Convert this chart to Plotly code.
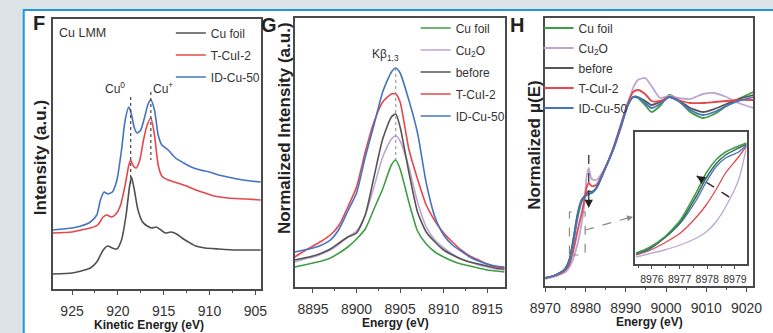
import plotly.graph_objects as go

W, H = 773, 333
SANS = "Liberation Sans, Arial, sans-serif"
AX = "#4a4a4a"
TXT = "#333333"

# colours
C_FOIL_F = "#505050"
C_RED = "#e4474c"
C_BLUE = "#4474c0"
C_GREEN = "#3f9e44"
C_PURPLE = "#bca6d4"
C_BEFORE = "#555555"

# ---------------- Panel F : Cu LMM ----------------
f_foil_x = [927.1, 925, 924, 923, 922.3, 921.6, 921.1, 920.6, 920.1, 919.6, 919.1, 918.7, 918.5, 918.2,
            917.8, 917.3, 916.8, 916.3, 915.8, 915.3, 914.8, 914.2, 913.6, 913, 912.3, 911.5, 910.5,
            909, 907, 905, 904.4]
f_foil_y = [16, 17, 19, 22, 28, 40, 44, 42, 41, 50, 75, 105, 113, 100, 80, 68, 64, 62, 63, 60,
            57, 58, 56, 52, 48, 44, 42, 41, 40, 40, 40]
f_tcui_x = [927.1, 925, 924, 923, 922.2, 921.6, 921.2, 920.7, 920.2, 919.7, 919.2, 918.8, 918.6, 918.3,
            918.0, 917.6, 917.2, 916.8, 916.4, 916.0, 915.6, 915.2, 914.5, 913.5, 912.5, 911.5, 910.5,
            909.5, 908, 906, 904.4]
f_tcui_y = [57, 58, 60, 62, 65, 73, 75, 73, 76, 85, 105, 125, 130, 124, 122, 130, 150, 165, 172, 155,
            125, 114, 110, 107, 104, 100, 97, 94, 92, 91, 90]
f_idcu_x = [927.1, 925, 924, 923, 922.3, 921.9, 921.5, 921.1, 920.6, 920.1, 919.6, 919.2, 918.8, 918.5,
            918.2, 917.9, 917.5, 917.1, 916.7, 916.4, 916.0, 915.6, 915.2, 914.5, 913.7, 912.8, 912,
            911, 910, 909, 908, 907, 905.5, 904.4]
f_idcu_y = [60, 62, 64, 68, 75, 90, 98, 96, 98, 110, 140, 170, 183, 175, 162, 157, 160, 172, 186, 190,
            180, 155, 145, 140, 132, 127, 123, 120, 118, 115, 113, 111, 109, 108]
f_ticks = [925, 920, 915, 910, 905]
f_minor = [922.5, 917.5, 912.5, 907.5]
f_peak_pos = [918.6, 916.4]
f_peak_top = [193, 198]
f_peak_bot = [103, 130]
f_peak_lbl = ["Cu<sup>0</sup>", "Cu<sup>+</sup>"]

# ---------------- Panel G : K-beta XES ----------------
g_e = [8892.9, 8894, 8895, 8896, 8897, 8898, 8899, 8900, 8901, 8902, 8903, 8904, 8904.5, 8905,
       8906, 8907, 8908, 8909, 8910, 8911, 8912, 8913, 8914, 8915, 8916, 8917]
g_foil = [20, 22, 24, 26, 29, 34, 40, 48, 58, 78, 98, 122, 127, 118, 85, 56, 43, 35, 30, 26, 23, 21, 19, 17, 16, 15]
g_cu2o = [25, 28, 30, 33, 37, 43, 50, 56, 72, 100, 130, 148, 151, 146, 120, 85, 60, 47, 39, 33, 28, 25, 22, 20, 18, 17]
g_before = [27, 29, 31, 34, 38, 44, 50, 54, 72, 110, 148, 170, 173, 160, 115, 75, 55, 45, 37, 32, 28, 25, 23, 21, 19, 18]
g_tcui = [30, 36, 41, 46, 52, 62, 80, 100, 135, 165, 185, 193, 193, 185, 138, 108, 82, 66, 54, 45, 37, 31, 27, 23, 20, 19]
g_idcu = [35, 37, 39, 42, 47, 58, 76, 94, 130, 162, 195, 215, 219, 214, 187, 154, 104, 70, 52, 42, 36, 30, 26, 23, 21, 20]
g_ticks = [8895, 8900, 8905, 8910, 8915]
g_minor = [8897.5, 8902.5, 8907.5, 8912.5]
g_peak = 8904.5

# ---------------- Panel H : XANES ----------------
h_e = [8970, 8972, 8974, 8975, 8976, 8977, 8978, 8979, 8979.6, 8980.3, 8980.8, 8981.5, 8982.7, 8984.4,
       8986.8, 8988.8, 8990.4, 8991.8, 8993, 8994.8, 8996.4, 8998.5, 9000.8, 9003, 9006, 9009.2,
       9012, 9015, 9018, 9021.7]
h_foil = [8, 10, 14, 18, 27, 48, 72, 86, 89, 91, 92, 93, 98, 113, 136, 160, 180, 189, 188, 181,
          174, 180, 191, 186, 174, 168, 172, 180, 187, 194]
h_cu2o = [7, 9, 12, 14, 19, 28, 42, 62, 78, 110, 118, 107, 106, 115, 135, 158, 180, 198, 206, 208,
          200, 188, 190, 188, 187, 192, 193, 189, 183, 178]
h_before = [8, 10, 14, 17, 26, 46, 70, 85, 89, 93, 95, 94, 98, 113, 136, 160, 180, 189, 189, 185,
            181, 184, 189, 186, 178, 174, 177, 182, 187, 191]
h_tcui = [8, 10, 13, 16, 22, 36, 55, 72, 84, 99, 103, 100, 101, 114, 137, 162, 182, 194, 196, 192,
          185, 185, 189, 186, 183, 183, 184, 185, 186, 186]
h_idcu = [8, 10, 14, 17, 25, 44, 68, 84, 88, 91, 92, 93, 98, 113, 136, 160, 180, 189, 189, 183,
          178, 182, 189, 185, 176, 171, 174, 180, 185, 189]
h_ticks = [8970, 8980, 8990, 9000, 9010, 9020]
h_minor = [8975, 8985, 8995, 9005, 9015]

# inset (zoom on the edge)
i_e = [8975.43, 8975.87, 8976.45, 8977.03, 8977.61, 8977.96, 8978.31, 8978.66, 8979.13, 8979.42]
i_foil = [11, 16, 27, 44, 72, 91, 104, 112, 118, 121]
i_cu2o = [7, 10, 14, 19, 26, 32, 42, 57, 84, 117]
i_before = [10, 15, 26, 42, 68, 86, 100, 109, 116, 120]
i_tcui = [9, 13, 21, 31, 47, 59, 74, 91, 107, 118]
i_idcu = [10, 14, 26, 41, 64, 82, 97, 106, 112, 119]
i_ticks = [8976, 8977, 8978, 8979]
i_minor = [8975.5, 8976.5, 8977.5, 8978.5]

fig = go.Figure()
_gid = [0]


def add(x, y, name, color, xa, ya, leg, show=True, width=1.6):
    _gid[0] += 1
    fig.add_trace(go.Scatter(x=x, y=y, mode="lines", name=name,
                             line=dict(color=color, width=width, shape="spline", smoothing=0.6),
                             xaxis=xa, yaxis=ya, legend=leg, showlegend=show, hoverinfo="skip",
                             legendgroup=f"g{_gid[0]}"))


add(f_foil_x, f_foil_y, "Cu foil", C_FOIL_F, "x", "y", "legend")
add(f_tcui_x, f_tcui_y, "T-CuI-2", C_RED, "x", "y", "legend")
add(f_idcu_x, f_idcu_y, "ID-Cu-50", C_BLUE, "x", "y", "legend")

add(g_e, g_foil, "Cu foil", C_GREEN, "x2", "y2", "legend2")
add(g_e, g_cu2o, "Cu<sub>2</sub>O", C_PURPLE, "x2", "y2", "legend2")
add(g_e, g_before, "before", C_BEFORE, "x2", "y2", "legend2")
add(g_e, g_tcui, "T-CuI-2", C_RED, "x2", "y2", "legend2")
add(g_e, g_idcu, "ID-Cu-50", C_BLUE, "x2", "y2", "legend2")

add(h_e, h_foil, "Cu foil", C_GREEN, "x3", "y3", "legend3", width=1.8)
add(h_e, h_cu2o, "Cu<sub>2</sub>O", C_PURPLE, "x3", "y3", "legend3", width=1.8)
add(h_e, h_before, "before", C_BEFORE, "x3", "y3", "legend3", width=1.8)
add(h_e, h_tcui, "T-CuI-2", C_RED, "x3", "y3", "legend3", width=1.8)
add(h_e, h_idcu, "ID-Cu-50", C_BLUE, "x3", "y3", "legend3", width=1.8)

add(i_e, i_cu2o, "Cu2O", C_PURPLE, "x4", "y4", "legend3", show=False, width=1.3)
add(i_e, i_tcui, "T-CuI-2", C_RED, "x4", "y4", "legend3", show=False, width=1.3)
add(i_e, i_idcu, "ID-Cu-50", C_BLUE, "x4", "y4", "legend3", show=False, width=1.3)
add(i_e, i_before, "before", "#3d6b5a", "x4", "y4", "legend3", show=False, width=1.5)
add(i_e, i_foil, "Cu foil", C_GREEN, "x4", "y4", "legend3", show=False, width=1.5)


def px(p):
    return p / W


def py(p):
    return 1 - p / H


def xax(x0, x1, rng, tv, mv, fs=14, anchor="y", tl=4, standoff=4):
    return dict(domain=[px(x0), px(x1)], range=rng, anchor=anchor, showline=True, mirror=True,
                linecolor=AX, linewidth=1.5, ticks="outside", ticklen=tl, tickwidth=1.2, tickcolor=AX,
                tickvals=tv, ticktext=[str(v) for v in tv], tickangle=0,
                minor=dict(tickvals=mv, ticks="outside", ticklen=max(tl - 1.5, 2), tickcolor=AX, tickwidth=1),
                showgrid=False, zeroline=False, ticklabelstandoff=standoff,
                tickfont=dict(family=SANS, size=fs, color=TXT))


def yax(y0, y1, rng, anchor):
    return dict(domain=[py(y1), py(y0)], range=rng, anchor=anchor, showline=True, mirror=True,
                linecolor=AX, linewidth=1.5, ticks="", showticklabels=False, showgrid=False,
                zeroline=False)


shapes = [
    # white card with blue frame
    dict(type="rect", xref="paper", yref="paper", x0=px(8), x1=1.02, y0=py(10), y1=-0.02,
         fillcolor="white", line=dict(color="#2196e0", width=2), layer="below"),
]
for xp, t, b in zip(f_peak_pos, f_peak_top, f_peak_bot):
    shapes.append(dict(type="line", xref="x", yref="y", x0=xp, x1=xp, y0=t, y1=b,
                       line=dict(color="#444", width=1.2, dash="dot")))
shapes.append(dict(type="line", xref="x2", yref="y2", x0=g_peak, x1=g_peak, y0=max(g_idcu), y1=max(g_foil),
                   line=dict(color="#888", width=1, dash="dot")))
# H: edge box, dashed leader, pre-edge arrow
box_x = [8976.0, 8979.9]
box_y = [31, 74]
shapes.append(dict(type="rect", xref="x3", yref="y3", x0=box_x[0], x1=box_x[1], y0=box_y[0], y1=box_y[1],
                   line=dict(color="#8a8a8a", width=1.2, dash="dash")))
lead_tail = (8979.9, 56)
lead_head = (8991.4, 69)
shapes.append(dict(type="line", xref="x3", yref="y3", x0=lead_tail[0], y0=lead_tail[1],
                   x1=lead_head[0], y1=lead_head[1], line=dict(color="#8a8a8a", width=1.2, dash="dash")))
pre_x = 8980.8
pre_y = [131, 84]
shapes.append(dict(type="line", xref="x3", yref="y3", x0=pre_x, x1=pre_x, y0=pre_y[0], y1=pre_y[1],
                   line=dict(color="#333", width=1.3, dash="dash")))
in_tail = (8978.79, 67)
in_head = (8977.62, 88)
shapes.append(dict(type="line", xref="x4", yref="y4", x0=in_tail[0], y0=in_tail[1],
                   x1=in_head[0], y1=in_head[1], line=dict(color="#333", width=1.5, dash="dash")))

ann = []


def note(x, y, text, size=12, bold=False, angle=0, xanchor="center"):
    ann.append(dict(x=px(x), y=py(y), xref="paper", yref="paper", text=f"<b>{text}</b>" if bold else text,
                    showarrow=False, textangle=angle, xanchor=xanchor, yanchor="middle",
                    font=dict(family=SANS, size=size, color="#222" if bold else TXT)))


note(24, 23, "F", 20, True)
note(261, 25, "G", 20, True)
note(518, 25, "H", 20, True)
note(25, 158, "Intensity (a.u.)", 17, True, -90)
note(277, 128, "Normalized Intensity (a.u.)", 17, True, -90)
note(535, 145, "Normalized \u03bc(E)", 17, True, -90)
note(137, 325, "Kinetic Energy (eV)", 12, True)
note(392, 323, "Energy (eV)", 12, True)
note(655, 322, "Energy (eV)", 12, True)
note(42, 33, "Cu LMM", 12.5, xanchor="left")
note(102, 88, f_peak_lbl[0], 12)
note(152, 88, f_peak_lbl[1], 12)
note(382, 55, "K\u03b2<sub>1,3</sub>", 12)

# arrowheads
ann.append(dict(x=pre_x, y=78, xref="x3", yref="y3", ax=0, ay=-8, text="", showarrow=True,
                arrowhead=2, arrowsize=1.1, arrowwidth=1.5, arrowcolor="#222"))
ann.append(dict(x=lead_head[0] + 0.4, y=lead_head[1], xref="x3", yref="y3", ax=-7, ay=1.5, text="",
                showarrow=True, arrowhead=2, arrowsize=1, arrowwidth=1.2, arrowcolor="#8a8a8a"))
ann.append(dict(x=in_head[0], y=in_head[1], xref="x4", yref="y4", ax=7, ay=4.5, text="", showarrow=True,
                arrowhead=2, arrowsize=1.1, arrowwidth=1.5, arrowcolor="#222"))

legfont = dict(family=SANS, size=12, color=TXT)
fig.update_layout(
    width=W, height=H, margin=dict(l=0, r=0, t=0, b=0),
    paper_bgcolor="#dde2e6", plot_bgcolor="white",
    xaxis=xax(38, 253, [927.1, 904.4], f_ticks, f_minor, anchor="y"),
    yaxis=yax(19, 289, [1, 271], "x"),
    xaxis2=xax(288, 505, [8892.9, 8917], g_ticks, g_minor, anchor="y2"),
    yaxis2=yax(18, 287, [0, 269], "x2"),
    xaxis3=xax(547, 762, [8970, 9021.7], h_ticks, h_minor, anchor="y3"),
    yaxis3=yax(18, 286, [0, 268], "x3"),
    xaxis4=xax(640, 755, [8975.4, 8979.42], i_ticks, i_minor, fs=10.5, anchor="y4", tl=3, standoff=2),
    yaxis4=yax(132, 264, [0, 132], "x4"),
    legend=dict(x=px(160), y=py(18.5), xanchor="left", yanchor="top", bgcolor="rgba(0,0,0,0)",
                font=legfont, borderwidth=0, tracegroupgap=3),
    legend2=dict(x=px(413), y=py(13.5), xanchor="left", yanchor="top", bgcolor="rgba(0,0,0,0)",
                 font=legfont, borderwidth=0, tracegroupgap=3),
    legend3=dict(x=px(540), y=py(13.5), xanchor="left", yanchor="top", bgcolor="rgba(0,0,0,0)",
                 font=legfont, borderwidth=0, tracegroupgap=1),
    shapes=shapes, annotations=ann,
)

fig.write_html("out.html")
